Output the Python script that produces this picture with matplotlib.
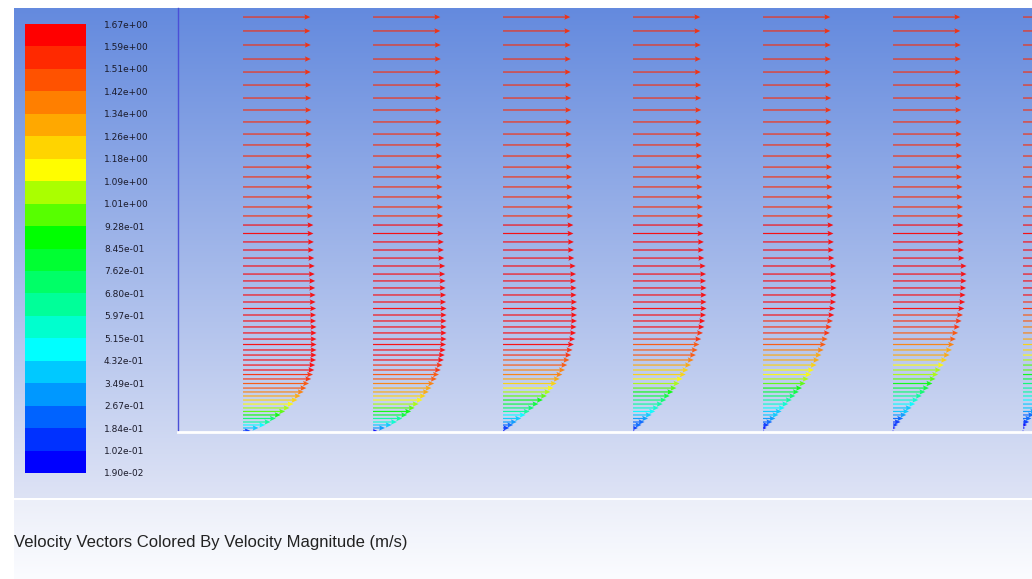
import numpy as np
import matplotlib
matplotlib.use("Agg")
import matplotlib.pyplot as plt
from matplotlib.colors import LinearSegmentedColormap, ListedColormap, BoundaryNorm
from matplotlib.cm import ScalarMappable

# ---------------- data ----------------
levels = [0.019, 0.102, 0.184, 0.267, 0.349, 0.432, 0.515, 0.597, 0.680, 0.762,
          0.845, 0.928, 1.01, 1.09, 1.18, 1.26, 1.34, 1.42, 1.51, 1.59, 1.67]

station_x_mm = [50, 150, 250, 350, 450, 550, 650]

rows_mm = [0.8, 3.1, 5.4, 7.7, 10.4, 13.1, 15.8, 18.5, 21.5, 24.6,
           27.7, 30.8, 33.8, 37.3, 40.8, 44.2, 47.7, 51.5, 55.4, 59.2,
           63.1, 67.3, 71.5, 76.2, 80.8, 85.4, 90.0, 95.0, 100.0, 105.4,
           110.8, 116.2, 121.5, 127.7, 133.8, 140.0, 146.2, 152.7, 159.2, 166.2,
           173.1, 180.8, 188.5, 196.2, 203.8, 212.3, 220.8, 229.2, 238.5, 247.7,
           256.9, 266.9, 276.9, 286.9, 297.7, 308.5, 319.2]

# boundary-layer part (first 34 rows) of each station, m/s
u_st1 = [0.17, 0.35, 0.50, 0.62, 0.74, 0.85, 0.95, 1.05, 1.14, 1.23,
         1.30, 1.37, 1.43, 1.49, 1.54, 1.58, 1.61, 1.63, 1.65, 1.66,
         1.66, 1.66, 1.66, 1.66, 1.66, 1.65, 1.65, 1.65, 1.64, 1.64,
         1.63, 1.63, 1.62, 1.62]
u_st2 = [0.10, 0.27, 0.42, 0.54, 0.66, 0.77, 0.86, 0.94, 1.03, 1.12,
         1.19, 1.26, 1.32, 1.38, 1.44, 1.49, 1.53, 1.57, 1.60, 1.62,
         1.64, 1.65, 1.66, 1.66, 1.66, 1.66, 1.66, 1.66, 1.65, 1.65,
         1.64, 1.64, 1.63, 1.63]
u_st3 = [0.05, 0.14, 0.23, 0.31, 0.41, 0.51, 0.60, 0.70, 0.80, 0.90,
         0.99, 1.07, 1.14, 1.21, 1.28, 1.34, 1.40, 1.45, 1.50, 1.54,
         1.57, 1.60, 1.63, 1.65, 1.66, 1.67, 1.67, 1.67, 1.67, 1.66,
         1.66, 1.65, 1.65, 1.64]
u_st4 = [0.04, 0.11, 0.19, 0.26, 0.34, 0.42, 0.50, 0.58, 0.67, 0.75,
         0.83, 0.91, 0.98, 1.05, 1.12, 1.19, 1.25, 1.31, 1.37, 1.42,
         1.46, 1.50, 1.54, 1.58, 1.61, 1.63, 1.65, 1.66, 1.66, 1.66,
         1.66, 1.65, 1.65, 1.64]
u_st5 = [0.03, 0.08, 0.14, 0.21, 0.28, 0.35, 0.42, 0.49, 0.57, 0.65,
         0.73, 0.81, 0.88, 0.96, 1.03, 1.09, 1.15, 1.21, 1.27, 1.32,
         1.37, 1.42, 1.46, 1.51, 1.55, 1.58, 1.61, 1.63, 1.65, 1.66,
         1.66, 1.66, 1.65, 1.65]
u_st6 = [0.02, 0.06, 0.11, 0.17, 0.23, 0.30, 0.36, 0.42, 0.50, 0.57,
         0.65, 0.73, 0.81, 0.89, 0.96, 1.02, 1.08, 1.15, 1.22, 1.28,
         1.33, 1.38, 1.42, 1.47, 1.51, 1.55, 1.58, 1.61, 1.63, 1.64,
         1.65, 1.66, 1.66, 1.66]
u_st7 = [0.02, 0.05, 0.09, 0.14, 0.19, 0.25, 0.30, 0.36, 0.42, 0.48,
         0.55, 0.61, 0.67, 0.74, 0.81, 0.87, 0.93, 0.99, 1.06, 1.12,
         1.18, 1.24, 1.30, 1.36, 1.41, 1.46, 1.50, 1.54, 1.57, 1.60,
         1.62, 1.64, 1.65, 1.66]
# outer flow (rows 35..57), common to all stations
u_outer = [1.61, 1.60, 1.60, 1.59, 1.59, 1.58, 1.58, 1.57, 1.57, 1.56,
           1.56, 1.56, 1.55, 1.55, 1.55, 1.54, 1.54, 1.54, 1.53, 1.53,
           1.53, 1.52, 1.52]

station_u = [u_st1, u_st2, u_st3, u_st4, u_st5, u_st6, u_st7]

title = "Velocity Vectors Colored By Velocity Magnitude (m/s)"

# ---------------- figure ----------------
W, H = 1032, 579
fig = plt.figure(figsize=(W / 100, H / 100), dpi=100)
fig.patch.set_facecolor("white")

# background gradient (style only)
bg = fig.add_axes([0, 0, 1, 1], zorder=-10)
bg.axis("off")
img = np.ones((H, W, 3))
top_c = np.array([100, 138, 222]) / 255
bot_c = np.array([222, 227, 245]) / 255
low_top = np.array([236, 239, 249]) / 255
low_bot = np.array([251, 252, 255]) / 255
for yy in range(H):
    if 8 <= yy < 498:
        t = (yy - 8) / (498 - 8)
        img[yy, 14:] = top_c * (1 - t) + bot_c * t
    elif yy >= 500:
        t = (yy - 500) / (H - 500)
        img[yy, 14:] = low_top * (1 - t) + low_bot * t
bg.imshow(img, extent=[0, W, H, 0], aspect="auto", interpolation="nearest")
bg.set_xlim(0, W)
bg.set_ylim(H, 0)

# colormap (Fluent-like banded rainbow)
base = LinearSegmentedColormap.from_list(
    "fl", [(0, (0, 0, 1)), (5 / 19, (0, 1, 1)), (10 / 19, (0, 1, 0)),
           (13 / 19, (1, 1, 0)), (1, (1, 0, 0))])
band_cols = [base(i / 19) for i in range(20)]
cmap = ListedColormap(band_cols)
norm = BoundaryNorm(levels, cmap.N, clip=True)

# vector axes
px_per_mm = 1.3
ax = fig.add_axes([178 / W, (H - 432) / H, (W - 178) / W, 424 / H])
ax.set_facecolor("none")
ax.set_xlim(0, (W - 178) / px_per_mm)
ax.set_ylim(0, 424 / px_per_mm)
ax.set_xticks([])
ax.set_yticks([])
for s in ("top", "right"):
    ax.spines[s].set_visible(False)
ax.spines["left"].set_color("#4b4fd6")
ax.spines["left"].set_linewidth(1.0)
ax.spines["bottom"].set_color("white")
ax.spines["bottom"].set_linewidth(2.0)

X, Y, U = [], [], []
for xs, ub in zip(station_x_mm, station_u):
    uu = list(ub) + list(u_outer)
    for yv, uv in zip(rows_mm, uu):
        X.append(xs)
        Y.append(yv)
        U.append(uv)
X = np.array(X); Y = np.array(Y); U = np.array(U)
V = np.zeros_like(U)

mm_per_ms = 44.3 / px_per_mm
ax.quiver(X, Y, U, V, U, cmap=cmap, norm=norm, angles="xy", scale_units="xy",
          scale=1 / mm_per_ms, units="dots", width=1.2, headwidth=4.5,
          headlength=5, headaxislength=4.2, linewidth=0, alpha=0.9, clip_on=True)

# legend colour bar
cax = fig.add_axes([25 / W, (H - 473) / H, 61 / W, 449 / H])
sm = ScalarMappable(norm=norm, cmap=cmap)
cb = fig.colorbar(sm, cax=cax, ticks=levels, spacing="uniform")
cb.set_ticklabels([f"{v:.2e}" for v in levels])
cb.outline.set_visible(False)
cax.tick_params(length=0, pad=13, labelsize=6.5, labelcolor="#1a1a2a")

fig.text(14 / W, 1 - 543 / H, title, ha="left", va="center", fontsize=12,
         family="Liberation Sans", color="#222222")

fig.savefig("out.png", dpi=100)
